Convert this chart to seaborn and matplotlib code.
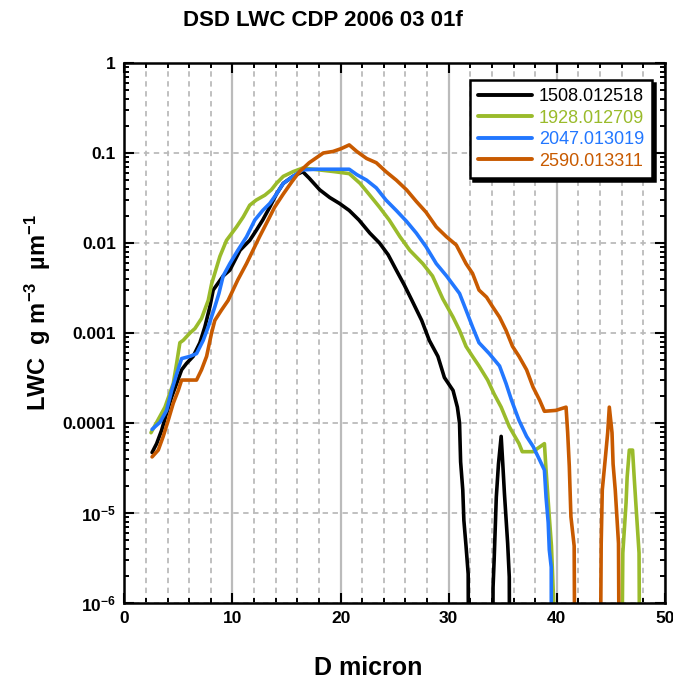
import numpy as np
import pandas as pd
import matplotlib
matplotlib.use("Agg")
import matplotlib.pyplot as plt
from matplotlib.ticker import MultipleLocator, LogLocator, FixedLocator, NullFormatter
import seaborn as sns

FLOOR = 1e-9  # below detection (zero counts)

series_names = ["1508.012518", "1928.012709", "2047.013019", "2590.013311"]
series_colors = ["#000000", "#9ABB2B", "#2277FF", "#C85A00"]

d_black = [2.57, 2.99, 3.45, 3.91, 4.38, 4.84, 5.30, 5.76, 6.37, 6.99, 7.45, 7.91, 8.22, 9.14, 9.76,
           10.7, 11.6, 12.2, 12.8, 13.45, 14.07, 14.7, 15.6, 16.5, 17.1, 18.07, 19.0, 19.9, 20.8,
           21.7, 22.7, 23.6, 24.4, 25.15, 25.9, 26.6, 27.5, 28.2, 29.0, 29.6, 30.4, 30.8, 31.0,
           31.1, 31.3, 31.4, 31.6, 31.8, 31.9, 33.98, 34.1, 34.2, 34.4, 34.6, 34.85, 35.0, 35.15,
           35.45, 35.6, 35.7]
lwc_black = [4.7e-5, 5.9e-5, 8.3e-5, 1.29e-4, 1.95e-4, 2.75e-4, 3.9e-4, 4.6e-4, 5.5e-4, 7.8e-4,
             1.17e-3, 1.95e-3, 3.0e-3, 4.3e-3, 5.0e-3, 8.3e-3, 1.07e-2, 1.38e-2, 1.8e-2, 2.5e-2,
             3.5e-2, 4.6e-2, 5.5e-2, 6.2e-2, 5.25e-2, 3.9e-2, 3.2e-2, 2.75e-2, 2.3e-2, 1.8e-2,
             1.29e-2, 1.0e-2, 7.4e-3, 5.0e-3, 3.4e-3, 2.3e-3, 1.38e-3, 8.3e-4, 5.5e-4, 3.2e-4,
             2.3e-4, 1.5e-4, 1.0e-4, 3.7e-5, 1.8e-5, 8.3e-6, 4.3e-6, 2.1e-6, FLOOR, FLOOR,
             1.5e-6, 3.0e-6, 1.5e-5, 3.5e-5, 7.1e-5, 3.5e-5, 1.66e-5, 4.6e-6, 1.95e-6, FLOOR]

d_green = [2.47, 3.76, 4.53, 4.84, 5.14, 5.45, 6.07, 6.53, 7.14, 7.76, 8.07, 8.84, 9.45, 10.38,
           11.0, 11.6, 12.2, 13.0, 13.6, 14.07, 14.7, 15.6, 16.5, 17.5, 19.45, 20.8, 21.8, 22.7,
           23.6, 24.5, 25.5, 26.4, 27.6, 28.5, 29.45, 30.4, 31.0, 31.6, 32.2, 32.8, 33.6, 34.2,
           34.85, 35.6, 36.5, 36.8, 37.8, 38.2, 38.85, 39.0, 39.3, 39.5, 39.7, 39.9, 45.85,
           46.1, 46.4, 46.5, 46.7, 47.0, 47.15, 47.3, 47.6, 47.75]
lwc_green = [7.8e-5, 1.5e-4, 2.75e-4, 4.6e-4, 7.8e-4, 8.3e-4, 1.0e-3, 1.12e-3, 1.45e-3, 2.3e-3,
             3.5e-3, 7.1e-3, 1.07e-2, 1.51e-2, 1.95e-2, 2.63e-2, 3.0e-2, 3.4e-2, 3.9e-2, 4.6e-2,
             5.5e-2, 6.2e-2, 6.8e-2, 6.6e-2, 6.2e-2, 5.9e-2, 4.6e-2, 3.4e-2, 2.5e-2, 1.8e-2,
             1.17e-2, 8.3e-3, 5.9e-3, 4.3e-3, 2.4e-3, 1.5e-3, 1.07e-3, 7.1e-4, 5.5e-4, 4.3e-4,
             3.0e-4, 2.1e-4, 1.5e-4, 9.1e-5, 5.9e-5, 4.8e-5, 4.8e-5, 5.2e-5, 5.9e-5, 3.0e-5,
             9.1e-6, 4.3e-6, 1.07e-6, FLOOR, FLOOR, 3.6e-6, 1.3e-5, 2.5e-5, 5.0e-5, 5.0e-5,
             2.5e-5, 1.3e-5, 3.6e-6, FLOOR]

d_blue = [2.57, 3.30, 3.91, 4.38, 4.84, 5.30, 6.07, 6.68, 7.30, 7.76, 8.37, 8.75, 9.14, 9.76,
          10.5, 11.3, 12.07, 12.8, 13.45, 14.07, 14.7, 15.6, 16.5, 17.8, 20.8, 21.5, 22.4, 23.3,
          24.2, 25.15, 26.1, 27.0, 27.9, 28.85, 29.8, 31.0, 31.6, 32.2, 32.8, 33.75, 34.7, 35.3,
          35.8, 36.5, 37.2, 37.8, 38.4, 38.85, 39.0, 39.2, 39.3, 39.48, 39.52]
lwc_blue = [8.5e-5, 1.02e-4, 1.38e-4, 2.3e-4, 3.5e-4, 5.2e-4, 5.5e-4, 5.9e-4, 8.3e-4, 1.17e-3,
            1.95e-3, 2.75e-3, 4.3e-3, 5.9e-3, 8.3e-3, 1.17e-2, 1.8e-2, 2.3e-2, 2.75e-2, 3.5e-2,
            4.6e-2, 5.5e-2, 6.5e-2, 6.6e-2, 6.6e-2, 5.75e-2, 5.0e-2, 4.1e-2, 3.0e-2, 2.3e-2,
            1.74e-2, 1.29e-2, 9.1e-3, 5.9e-3, 4.3e-3, 2.75e-3, 1.8e-3, 1.17e-3, 7.8e-4, 5.9e-4,
            4.3e-4, 2.75e-4, 1.8e-4, 1.07e-4, 7.1e-5, 5.5e-5, 3.9e-5, 3.0e-5, 1.5e-5, 7.8e-6,
            3.9e-6, 2.5e-6, FLOOR]

d_orange = [2.57, 3.14, 3.60, 4.06, 4.53, 4.99, 5.30, 6.68, 7.14, 7.61, 8.07, 8.37, 8.99, 9.60,
            10.5, 11.3, 11.9, 12.5, 13.3, 13.9, 14.7, 15.5, 16.2, 17.1, 18.4, 19.3, 20.07, 20.8,
            21.5, 22.4, 23.3, 24.2, 25.15, 26.1, 27.0, 27.9, 28.85, 29.8, 30.7, 31.6, 32.2, 32.8,
            33.5, 34.07, 34.7, 35.3, 35.9, 36.5, 37.2, 37.8, 38.4, 38.85, 39.9, 40.85, 41.0,
            41.15, 41.3, 41.6, 41.75, 43.9, 44.1, 44.2, 44.5, 44.7, 44.85, 45.1, 45.2, 45.4,
            45.7, 45.85]
lwc_orange = [4.2e-5, 5.0e-5, 7.1e-5, 1.07e-4, 1.66e-4, 2.3e-4, 3.0e-4, 3.0e-4, 3.9e-4, 5.5e-4,
              1.0e-3, 1.38e-3, 1.8e-3, 2.3e-3, 3.9e-3, 5.9e-3, 8.3e-3, 1.17e-2, 1.8e-2, 2.5e-2,
              3.5e-2, 4.8e-2, 6.2e-2, 7.8e-2, 0.100, 0.104, 0.112, 0.123, 0.104, 8.7e-2, 7.8e-2,
              6.2e-2, 5.0e-2, 3.9e-2, 2.9e-2, 2.2e-2, 1.51e-2, 1.17e-2, 9.5e-3, 5.9e-3, 4.6e-3,
              3.0e-3, 2.5e-3, 1.95e-3, 1.5e-3, 1.07e-3, 7.1e-4, 5.5e-4, 3.9e-4, 2.5e-4, 1.8e-4,
              1.35e-4, 1.38e-4, 1.5e-4, 7.8e-5, 3.3e-5, 9.1e-6, 4.3e-6, FLOOR, FLOOR, 4.6e-6,
              1.8e-5, 4.3e-5, 7.8e-5, 1.5e-4, 7.8e-5, 3.5e-5, 1.8e-5, 4.6e-6, FLOOR]

title = "DSD LWC CDP 2006 03 01f"
xlabel = "D micron"
ylabel = "LWC  g m$^{-3}$  µm$^{-1}$"
x_ticks = [0, 10, 20, 30, 40, 50]
y_ticks = [1e-6, 1e-5, 1e-4, 1e-3, 1e-2, 1e-1, 1]
y_tick_labels = ["$10^{-6}$", "$10^{-5}$", "0.0001", "0.001", "0.01", "0.1", "1"]

frames = []
for name, d, v in [(series_names[0], d_black, lwc_black), (series_names[1], d_green, lwc_green),
                   (series_names[2], d_blue, lwc_blue), (series_names[3], d_orange, lwc_orange)]:
    frames.append(pd.DataFrame({"D": d, "LWC": v, "series": name}))
df = pd.concat(frames, ignore_index=True)

sns.set_style("ticks")
plt.rcParams["font.family"] = ["Liberation Sans", "DejaVu Sans"]
plt.rcParams["mathtext.fontset"] = "custom"
plt.rcParams["mathtext.rm"] = "Liberation Sans:bold"
plt.rcParams["mathtext.bf"] = "Liberation Sans:bold"
plt.rcParams["mathtext.it"] = "Liberation Sans:bold"
for key in ["text.color", "axes.labelcolor", "xtick.color", "ytick.color", "axes.edgecolor"]:
    plt.rcParams[key] = "black"

W, H = 673, 684
fig = plt.figure(figsize=(W / 100, H / 100), dpi=100)
ax = fig.add_axes([124.3 / W, 81 / H, 540.7 / W, 540 / H])
ax.set_yscale("log")

sns.lineplot(data=df, x="D", y="LWC", hue="series", hue_order=series_names,
             palette=series_colors, estimator=None, sort=False, linewidth=2.6, ax=ax,
             legend=True)

ax.set_xlim(0, 50)
ax.set_ylim(1e-6, 1)

ax.xaxis.set_major_locator(FixedLocator(x_ticks))
ax.xaxis.set_minor_locator(MultipleLocator(2))
ax.yaxis.set_major_locator(FixedLocator(y_ticks))
ax.yaxis.set_minor_locator(LogLocator(base=10, subs=np.arange(2, 10)))
ax.yaxis.set_minor_formatter(NullFormatter())
ax.set_yticklabels(y_tick_labels)
ax.grid(False)
ax.grid(which="major", axis="x", color="#BBBBBB", linestyle="-", linewidth=1.6)
ax.grid(which="minor", axis="x", color="#BBBBBB", linestyle=(0, (3, 2.5)), linewidth=1.3)
ax.grid(which="major", axis="y", color="#BBBBBB", linestyle=(0, (3, 2.5)), linewidth=1.3)
ax.set_axisbelow(True)

for sp in ax.spines.values():
    sp.set_linewidth(1.8)
    sp.set_color("black")
    sp.set_visible(True)
ax.tick_params(which="both", direction="in", top=True, right=True, color="black")
ax.tick_params(which="major", length=7, width=1.5, labelsize=12.5, pad=6)
ax.tick_params(which="minor", length=3.6, width=1.4)
for lab in ax.get_xticklabels() + ax.get_yticklabels():
    lab.set_fontweight("bold")

ax.set_xlabel("")
ax.set_ylabel("")
fig.text(368 / W, 1 - 668 / H, xlabel, ha="center", va="center", fontsize=18, fontweight="bold")
fig.text(38 / W, 1 - 313 / H, ylabel, ha="center", va="center", rotation=90, fontsize=17,
         fontweight="bold")
fig.text(323 / W, 1 - 20 / H, title, ha="center", va="center", fontsize=16, fontweight="bold")

handles, labels = ax.get_legend_handles_labels()
leg = ax.legend(handles, labels, loc="upper right", bbox_to_anchor=(0.976, 0.9685),
                borderaxespad=0, frameon=True, fancybox=False, edgecolor="black",
                framealpha=1, fontsize=13, handlelength=3.0, handletextpad=0.35,
                labelspacing=0.25, borderpad=0.45,
                shadow={"facecolor": "black", "edgecolor": "black", "alpha": 1})
leg.get_frame().set_linewidth(1.8)
for txt, col in zip(leg.get_texts(), series_colors):
    txt.set_color(col)
for lh in leg.get_lines():
    lh.set_linewidth(2.8)

fig.savefig("out.png", dpi=100)
